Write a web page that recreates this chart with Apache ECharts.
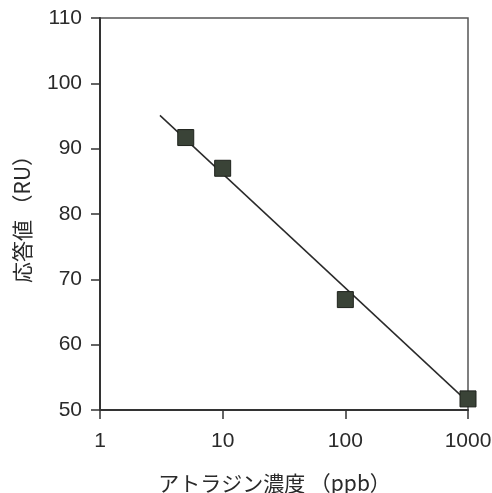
<!DOCTYPE html>
<html><head><meta charset="utf-8">
<script src="https://cdn.jsdelivr.net/npm/echarts@6/dist/echarts.min.js"></script>
<style>html,body{margin:0;padding:0;background:#fff}#c{width:492px;height:493px}</style>
</head><body><div id="c"></div>
<script>
const concentrations = [5, 10, 100, 1000];
const responses = [91.7, 87.0, 66.9, 51.7];
const fitX = [3.08, 1000];
const fitY = [95.1, 51.2];
const yTicks = [50, 60, 70, 80, 90, 100, 110];
const xTicks = [1, 10, 100, 1000];
const xName = 'アトラジン濃度 （ppb）';
const yName = '応答値 （RU）';

const chart = echarts.init(document.getElementById('c'));
const txt = '#2a2a2a';
chart.setOption({
  animation: false,
  backgroundColor: '#fff',
  grid: {left: 100, top: 18, right: 24, bottom: 83, show: true, borderColor: '#555', borderWidth: 1.5,
         backgroundColor: 'transparent', containLabel: false, outerBoundsMode: 'none'},
  xAxis: {
    type: 'log', logBase: 10, min: xTicks[0], max: xTicks[xTicks.length-1],
    name: xName, nameLocation: 'middle', nameGap: 63,
    nameTextStyle: {fontSize: 21, color: txt, fontFamily: 'Noto Sans CJK JP', padding: [0, 19, 0, 0]},
    axisLine: {lineStyle: {color: '#333', width: 2}},
    axisTick: {show: true, length: 9, lineStyle: {color: '#333', width: 1.5}},
    axisLabel: {fontSize: 21, color: txt, fontFamily: 'Liberation Sans', margin: 21,
                formatter: v => String(Math.round(v))},
    splitLine: {show: false}, minorTick: {show: false}
  },
  yAxis: {
    type: 'value', min: yTicks[0], max: yTicks[yTicks.length-1], interval: 10,
    name: yName, nameLocation: 'middle', nameGap: 67,
    nameTextStyle: {fontSize: 21, color: txt, fontFamily: 'Noto Sans CJK JP'},
    axisLine: {show: true, lineStyle: {color: '#333', width: 2}},
    axisTick: {show: true, length: 9, lineStyle: {color: '#333', width: 1.5}},
    axisLabel: {fontSize: 21, color: txt, fontFamily: 'Liberation Sans', margin: 18},
    splitLine: {show: false}
  },
  series: [
    {type: 'line', data: fitX.map((x, i) => [x, fitY[i]]), symbol: 'none',
     lineStyle: {color: '#2a2a2a', width: 1.5}, z: 2},
    {type: 'scatter', data: concentrations.map((x, i) => [x, responses[i]]),
     symbol: 'rect', symbolSize: 16,
     itemStyle: {color: '#3a4337', borderColor: '#1e221c', borderWidth: 1, opacity: 1}, z: 3}
  ]
});
</script></body></html>
